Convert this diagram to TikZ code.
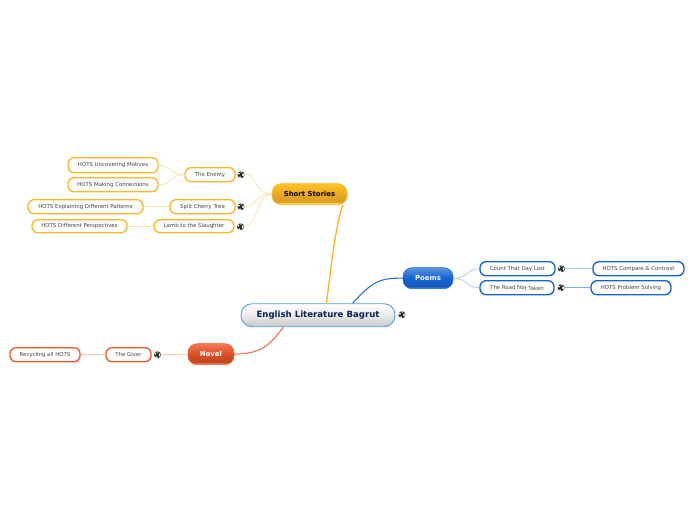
\documentclass[tikz,border=0pt]{standalone}
\usepackage{fontspec}
\setmainfont{DejaVu Sans}
\definecolor{org}{HTML}{FDB827}
\definecolor{orgl}{HTML}{FFDF9E}
\definecolor{orgm}{HTML}{FFB70F}
\definecolor{blu}{HTML}{1464D2}
\definecolor{blul}{HTML}{A9C8F2}
\definecolor{blum}{HTML}{2C72DA}
\definecolor{redd}{HTML}{F4572A}
\definecolor{redl}{HTML}{FFC3AE}
\definecolor{redm}{HTML}{FB6A42}
\definecolor{leaftext}{HTML}{444444}
\definecolor{roottext}{HTML}{0A1F55}
\definecolor{rootline}{HTML}{4FA3DC}
\pgfdeclareverticalshading{orgshade}{100bp}{color(0bp)=(orgl); color(25bp)=(orgl); color(29bp)=(orgl!40!org); color(32bp)=(org!85!black); color(50bp)=(org!92!black); color(75bp)=(org!85!yellow); color(100bp)=(org)}
\pgfdeclareverticalshading{blushade}{100bp}{color(0bp)=(blu!70); color(25bp)=(blu!70); color(31bp)=(blu!90!black); color(50bp)=(blu); color(75bp)=(blu!70!white); color(100bp)=(blu)}
\pgfdeclareverticalshading{redshade}{100bp}{color(0bp)=(redl); color(25bp)=(redl); color(31bp)=(redd!80!black); color(50bp)=(redd!90!black); color(75bp)=(redd!80!white); color(100bp)=(redd)}
\pgfdeclareverticalshading{rootshade}{100bp}{color(0bp)=(black!25); color(25bp)=(black!22); color(50bp)=(black!8); color(75bp)=(white); color(100bp)=(white)}
\tikzset{
 boxat/.style n args={4}{minimum width={#3-#1}, minimum height={#4-#2}, at={({(#1+#3)/2},{(#2+#4)/2})}},
 base/.style={inner sep=0pt, anchor=center, align=center},
 leaf/.style={base, rounded corners=6pt, draw=#1, line width=1.35pt, fill=white, text=leaftext, font=\fontsize{5.4}{6}\selectfont},
 branch/.style={base, rounded corners=9pt, draw=#1, line width=.5pt, shading=#1shade, font=\fontsize{6.9}{8}\selectfont\bfseries},
 rootbox/.style={base, rounded corners=11pt, draw=rootline, line width=.9pt, shading=rootshade, text=roottext, font=\fontsize{8.6}{9}\selectfont\bfseries},
 globe/.style={circle, inner sep=0pt, minimum size=7pt, fill=black!85, path picture={
   \fill[white] (path picture bounding box.center) ++(-1.1pt,-2.5pt) circle[x radius=1.3pt, y radius=.9pt];
   \fill[white] (path picture bounding box.center) ++(2.1pt,-.2pt) circle[x radius=1pt, y radius=1.8pt];
   \fill[white] (path picture bounding box.center) ++(-2.1pt,1.1pt) circle[x radius=.9pt, y radius=1.3pt];
   \fill[white] (path picture bounding box.center) ++(.3pt,2.7pt) circle[x radius=1.2pt, y radius=.6pt];}},
 wire/.style={line width=.7pt, line cap=round}
}
\begin{document}
\begin{tikzpicture}[x=1pt,y=-1pt]
\useasboundingbox (0,-.7) rectangle (696,519.3);
% central and branches
\node[rootbox, boxat={241}{303}{395}{326}] (root) {English \raisebox{-.9pt}{Literature Bagrut}};
\node[branch=org, boxat={272}{183}{347}{204}, text=black] (ss) {Short Stories};
\node[branch=blu, boxat={403}{267}{453}{288}, text=white] (poems) {Poems};
\node[branch=redd, boxat={188}{343}{234}{364}, text=white, shading=redshade] (novel) {Novel};
% short stories
\node[leaf=org, boxat={185}{167}{235}{181}] (enemy) {The Enemy};
\node[leaf=org, boxat={68}{157}{158}{172}] (uncover) {HOTS Uncovering Motives};
\node[leaf=org, boxat={68}{177}{158}{191}] (making) {HOTS Making Connections};
\node[leaf=org, boxat={170}{199}{235}{213}] (split) {Split Cherry Tree};
\node[leaf=org, boxat={28}{199}{143}{213}] (explain) {HOTS Explaining Different Patterns};
\node[leaf=org, boxat={154}{219}{234}{232}] (lamb) {Lamb to the Slaughter};
\node[leaf=org, boxat={32}{219}{127}{232}] (persp) {HOTS Different Perspectives};
% poems
\node[leaf=blu, boxat={480}{261}{555}{275}] (count) {Count That Day Lost};
\node[leaf=blu, boxat={480}{280}{554}{294}] (road) {The Road No\raisebox{-.8pt}{t Taken}};
\node[leaf=blu, boxat={593}{261}{684}{275}] (compare) {HOTS Compare \& Contrast};
\node[leaf=blu, boxat={591}{280}{671}{294}] (problem) {HOTS Problem Solving};
% novel
\node[leaf=redd, boxat={106}{347}{151}{361}] (giver) {The Giver};
\node[leaf=redd, boxat={10}{347}{80}{361}] (recycle) {Recycling all HOTS};
% globes
\node[globe] (g1) at (241,174) {};
\node[globe] (g2) at (241,206) {};
\node[globe] (g3) at (240.5,226) {};
\node[globe] (g4) at (402,314) {};
\node[globe] (g5) at (561.5,268) {};
\node[globe] (g6) at (561,287) {};
\node[globe] (g7) at (157.5,354) {};
% main connectors
\draw[orgm, line width=1.3pt] (ss.-18) .. controls (334,232) and (331,270) .. (root.55);
\draw[blum, line width=1.1pt] (poems.west) .. controls (380,277) and (372,281) .. (root.19);
\draw[redm, line width=1pt] (novel.east) .. controls (262,353) and (270,344) .. (root.199.2);
% short stories wires
\draw[orgl, wire] (g1.east) .. controls (258,174) and (254,193) .. (ss.west);
\draw[orgl, wire] (g2.east) .. controls (258,206) and (254,193) .. (ss.west);
\draw[orgl, wire] (g3.east) .. controls (258,226) and (256,193) .. (ss.west);
\draw[orgl, wire] (uncover.east) .. controls (172,165) and (170,174) .. (enemy.west);
\draw[orgl, wire] (making.east) .. controls (172,184) and (170,174) .. (enemy.west);
\draw[orgl, line width=1pt] (explain.east) -- (split.west);
\draw[orgl, line width=1.2pt] (persp.east) -- (lamb.west);
% poems wires
\draw[blul, wire] (poems.east) .. controls (468,278) and (466,268) .. (count.west);
\draw[blul, wire] (poems.east) .. controls (468,278) and (466,287) .. (road.west);
\draw[blul, line width=1pt] (g5.east) -- (compare.west);
\draw[blu!55, line width=.7pt] (g6.east) -- (problem.west);
% novel wires
\draw[redl, line width=.8pt] (novel.west) -- (g7.east);
\draw[redl, line width=1pt] (recycle.east) -- (giver.west);
\end{tikzpicture}
\end{document}
